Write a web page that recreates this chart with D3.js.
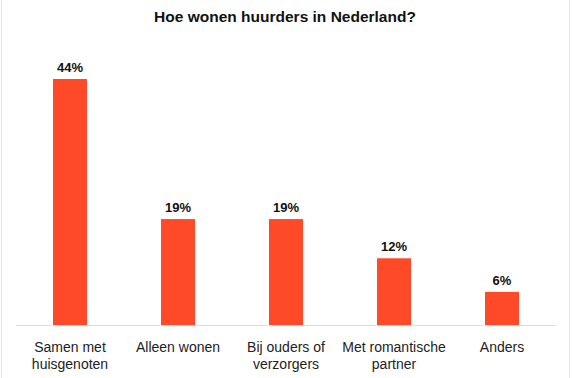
<!DOCTYPE html>
<html>
<head>
<meta charset="utf-8">
<script src="https://cdn.jsdelivr.net/npm/d3@7"></script>
<style>
  body { margin: 0; background: #fff; }
  svg { display: block; font-family: "Liberation Sans", Arial, sans-serif; }
</style>
</head>
<body>
<div id="chart-area"></div>
<script>
// data
var categories = [["Samen met", "huisgenoten"], ["Alleen wonen"], ["Bij ouders of", "verzorgers"], ["Met romantische", "partner"], ["Anders"]];
var values = [44, 19, 19, 12, 6];
var valueLabels = ["44%", "19%", "19%", "12%", "6%"];
var title = "Hoe wonen huurders in Nederland?";

var width = 572, height = 378;
var baseY = 325.5;

var svg = d3.select("#chart-area").append("svg")
    .attr("width", width)
    .attr("height", height);

// faint frame edges
svg.append("line")
    .attr("x1", 1.5).attr("x2", 1.5).attr("y1", 0).attr("y2", height)
    .attr("stroke", "#e6e6e6");
svg.append("line")
    .attr("x1", 569.5).attr("x2", 569.5).attr("y1", 0).attr("y2", height)
    .attr("stroke", "#e6e6e6");

var x = d3.scaleBand()
    .domain(d3.range(values.length))
    .range([16, 556])
    .paddingInner(0.685)
    .paddingOuter(0.3425);

var y = d3.scaleLinear()
    .domain([0, 44])
    .range([baseY, 79]);

svg.append("text")
    .attr("x", 285)
    .attr("y", 21.5)
    .attr("text-anchor", "middle")
    .attr("font-size", "15.5px")
    .attr("font-weight", "bold")
    .attr("fill", "#111")
    .text(title);

svg.selectAll("rect.bar")
    .data(values)
    .enter()
    .append("rect")
    .attr("class", "bar")
    .attr("x", (d, i) => x(i))
    .attr("y", d => y(d))
    .attr("width", x.bandwidth())
    .attr("height", d => baseY - y(d))
    .attr("fill", "#ff4a2a");

// baseline
svg.append("line")
    .attr("x1", 16).attr("x2", 556)
    .attr("y1", baseY).attr("y2", baseY)
    .attr("stroke", "#dedede")
    .attr("stroke-width", 1);

svg.selectAll("text.val")
    .data(values)
    .enter()
    .append("text")
    .attr("class", "val")
    .attr("x", (d, i) => x(i) + x.bandwidth() / 2)
    .attr("y", d => y(d) - 7)
    .attr("text-anchor", "middle")
    .attr("font-size", "13px")
    .attr("font-weight", "bold")
    .attr("fill", "#111")
    .text((d, i) => valueLabels[i]);

var cat = svg.selectAll("text.cat")
    .data(categories)
    .enter()
    .append("text")
    .attr("class", "cat")
    .attr("x", (d, i) => x(i) + x.bandwidth() / 2)
    .attr("y", 352)
    .attr("text-anchor", "middle")
    .attr("font-size", "14px")
    .attr("fill", "#222");

cat.selectAll("tspan")
    .data(d => d)
    .enter()
    .append("tspan")
    .attr("x", function () { return d3.select(this.parentNode).attr("x"); })
    .attr("dy", (d, i) => i === 0 ? 0 : 17)
    .text(d => d);
</script>
</body>
</html>
